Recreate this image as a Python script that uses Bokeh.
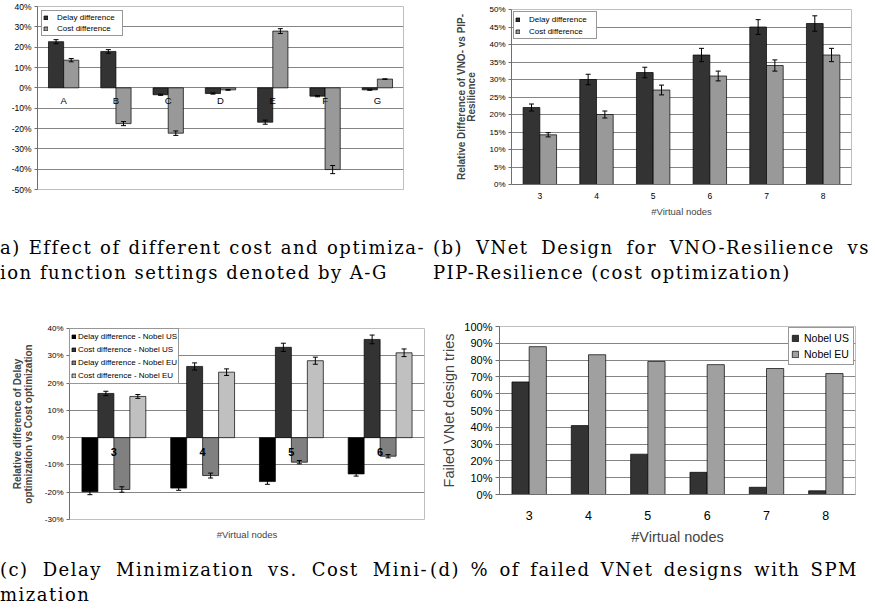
from bokeh.plotting import figure
from bokeh.layouts import column, row
from bokeh.models import (ColumnDataSource, Whisker, TeeHead, PrintfTickFormatter,
                          FixedTicker, Range1d, FactorRange, Div)
from bokeh.transform import dodge
from bokeh.core.properties import value
from bokeh.embed import file_html
from bokeh.resources import INLINE

# ---------------- data ----------------
# (a) settings A-G
a_settings = ["A", "B", "C", "D", "E", "F", "G"]
a_delay = [22.7, 17.9, -3.4, -2.8, -16.9, -4.1, -1.0]
a_delay_err = [1.0, 0.9, 0.3, 0.3, 1.0, 0.3, 0.2]
a_cost = [13.6, -17.6, -22.3, -1.0, 27.9, -40.2, 4.3]
a_cost_err = [0.8, 1.0, 1.1, 0.2, 1.2, 2.0, 0.1]
a_ticks = [-50, -40, -30, -20, -10, 0, 10, 20, 30, 40]

# (b) VNO vs PIP resilience
b_nodes = ["3", "4", "5", "6", "7", "8"]
b_delay = [22, 30, 32, 37, 45, 46]
b_delay_err = [1.0, 1.5, 1.5, 1.9, 2.1, 2.2]
b_cost = [14.2, 20, 27, 31, 34, 37]
b_cost_err = [0.6, 1.0, 1.4, 1.4, 1.6, 1.9]
b_ticks = [0, 5, 10, 15, 20, 25, 30, 35, 40, 45, 50]

# (c) delay vs cost minimization
c_nodes = ["3", "4", "5", "6"]
c_delay_us = [-19.8, -18.5, -16.1, -13.3]
c_delay_us_err = [1.1, 0.8, 1.0, 0.8]
c_cost_us = [16.2, 26.1, 33.1, 36.0]
c_cost_us_err = [0.8, 1.3, 1.5, 1.6]
c_delay_eu = [-19.0, -13.9, -9.0, -6.8]
c_delay_eu_err = [1.0, 0.9, 0.6, 0.6]
c_cost_eu = [15.1, 24.0, 28.2, 31.1]
c_cost_eu_err = [0.7, 1.2, 1.3, 1.4]
c_ticks = [-30, -20, -10, 0, 10, 20, 30, 40]

# (d) failed VNet designs
d_nodes = ["3", "4", "5", "6", "7", "8"]
d_us = [67, 41, 24, 13.2, 4.3, 2.2]
d_eu = [88, 83.2, 79.2, 77.3, 75, 72]
d_ticks = [0, 10, 20, 30, 40, 50, 60, 70, 80, 90, 100]

FONT = "Liberation Sans"


def make_source(cats, series):
    data = {"cat": cats}
    for name, vals, errs in series:
        data[name] = vals
        if errs is not None:
            data[name + "_hi"] = [v + e for v, e in zip(vals, errs)]
            data[name + "_lo"] = [v - e for v, e in zip(vals, errs)]
    return ColumnDataSource(data)


def base_fig(cats, w, h, y0, y1, ticks, bl, br, bt, bb, tick_size):
    p = figure(width=w, height=h, x_range=FactorRange(factors=cats), y_range=Range1d(y0, y1),
               toolbar_location=None, output_backend="svg",
               min_border_left=bl, min_border_right=br, min_border_top=bt, min_border_bottom=bb,
               background_fill_color="white", border_fill_color="white",
               outline_line_color="#bfbfbf", outline_line_width=1)
    p.xgrid.visible = False
    p.ygrid.grid_line_color = "#858585"
    p.ygrid.grid_line_width = 1
    p.yaxis.ticker = FixedTicker(ticks=ticks)
    p.yaxis.formatter = PrintfTickFormatter(format="%d%%")
    p.yaxis.minor_tick_line_color = None
    p.yaxis.major_tick_in = 0
    p.yaxis.major_tick_out = 3
    p.yaxis.axis_line_color = "#6f6f6f"
    p.yaxis.major_tick_line_color = "#6f6f6f"
    p.yaxis.major_label_text_font = FONT
    p.yaxis.major_label_text_font_size = tick_size
    p.yaxis.major_label_text_color = "#000000"
    p.yaxis.major_label_standoff = 3
    return p


def add_series(p, src, name, off, w, color, label, err=True):
    x = dodge("cat", off, range=p.x_range)
    p.vbar(x=x, top=name, bottom=0, width=w, source=src, fill_color=color,
           line_color="#000000", line_width=0.7, legend_label=label)
    if err:
        wk = Whisker(source=src, base=dodge("cat", off, range=p.x_range),
                     upper=name + "_hi", lower=name + "_lo", level="annotation",
                     line_color="#000000", line_width=1,
                     upper_head=TeeHead(size=5, line_color="#000000", line_width=1),
                     lower_head=TeeHead(size=5, line_color="#000000", line_width=1))
        p.add_layout(wk)


def style_legend(p, loc, margin, pad, lh, gw, standoff, lw, fs):
    lg = p.legend[0]
    lg.location = loc
    lg.margin = margin
    lg.padding = pad
    lg.spacing = 0
    lg.label_height = lh
    lg.label_width = lw
    lg.glyph_height = gw
    lg.glyph_width = gw
    lg.label_standoff = standoff
    lg.label_text_font = FONT
    lg.label_text_font_size = fs
    lg.label_text_color = "#000000"
    lg.border_line_color = "#303030"
    lg.border_line_width = 1
    lg.background_fill_color = "white"
    lg.background_fill_alpha = 1.0


# ---------------- (a) ----------------
src_a = make_source(a_settings, [("delay", a_delay, a_delay_err), ("cost", a_cost, a_cost_err)])
pa = base_fig(a_settings, 440, 225, -50, 40, a_ticks, 37, 37, 6, 36, "8.5px")
pa.xaxis.visible = False
add_series(pa, src_a, "delay", -0.145, 0.29, "#333333", "Delay difference")
add_series(pa, src_a, "cost", 0.145, 0.29, "#999999", "Cost difference")
pa.text(x="cat", y=-6.4, text="cat", source=src_a, text_align="center", text_baseline="middle",
        text_font=value(FONT), text_font_size="9.5px", text_color="#000000")
style_legend(pa, "top_left", 4, 1, 11, 5, 9, 64, "8px")

# ---------------- (b) ----------------
src_b = make_source(b_nodes, [("delay", b_delay, b_delay_err), ("cost", b_cost, b_cost_err)])
pb = base_fig(b_nodes, 435, 225, 0, 50, b_ticks, 71, 24, 9, 41, "8px")
add_series(pb, src_b, "delay", -0.1475, 0.295, "#333333", "Delay difference")
add_series(pb, src_b, "cost", 0.1475, 0.295, "#999999", "Cost difference")
pb.yaxis.axis_label = "Relative Difference of VNO- vs PIP-\nResilience"
pb.yaxis.axis_label_text_font = FONT
pb.yaxis.axis_label_text_font_style = "bold"
pb.yaxis.axis_label_text_font_size = "10px"
pb.yaxis.axis_label_text_line_height = 0.95
pb.yaxis.axis_label_standoff = 9
pb.xaxis.axis_label = "#Virtual nodes"
pb.xaxis.axis_label_text_font = FONT
pb.xaxis.axis_label_text_font_style = "normal"
pb.xaxis.axis_label_text_font_size = "9.5px"
pb.xaxis.axis_label_standoff = 4
pb.xaxis.major_label_text_font = FONT
pb.xaxis.major_label_text_font_size = "8.5px"
pb.xaxis.major_label_text_color = "#000000"
pb.xaxis.major_tick_line_color = None
pb.xaxis.major_tick_out = 4
pb.xaxis.major_label_standoff = 4
pb.xaxis.axis_line_color = "#6f6f6f"
style_legend(pb, "top_left", 2, 1, 12, 5, 9, 66, "8px")

# ---------------- (c) ----------------
src_c = make_source(c_nodes, [("dus", c_delay_us, c_delay_us_err), ("cus", c_cost_us, c_cost_us_err),
                              ("deu", c_delay_eu, c_delay_eu_err), ("ceu", c_cost_eu, c_cost_eu_err)])
pc = base_fig(c_nodes, 430, 232, -30, 40, c_ticks, 69, 6, 13, 28, "8px")
add_series(pc, src_c, "dus", -0.27, 0.18, "#000000", "Delay difference - Nobel US")
add_series(pc, src_c, "cus", -0.09, 0.18, "#333333", "Cost difference - Nobel US")
add_series(pc, src_c, "deu", 0.09, 0.18, "#808080", "Delay difference - Nobel EU")
add_series(pc, src_c, "ceu", 0.27, 0.18, "#c0c0c0", "Cost difference - Nobel EU")
pc.text(x="cat", y=-5.2, text="cat", source=src_c, text_align="center", text_baseline="middle",
        text_font=value(FONT), text_font_size="11px", text_font_style="bold", text_color="#000000")
pc.yaxis.axis_label = "Relative difference of Delay\noptimization vs Cost optimization"
pc.yaxis.axis_label_text_font = FONT
pc.yaxis.axis_label_text_font_style = "bold"
pc.yaxis.axis_label_text_font_size = "10px"
pc.yaxis.axis_label_text_line_height = 0.95
pc.yaxis.axis_label_standoff = 8
pc.xaxis.axis_label = "#Virtual nodes"
pc.xaxis.axis_label_text_font = FONT
pc.xaxis.axis_label_text_font_style = "normal"
pc.xaxis.axis_label_text_font_size = "9.5px"
pc.xaxis.axis_label_standoff = 9
pc.xaxis.major_label_text_color = None
pc.xaxis.major_label_text_font_size = "1px"
pc.xaxis.major_label_standoff = 0
pc.xaxis.major_tick_line_color = None
pc.xaxis.major_tick_out = 0
pc.xaxis.axis_line_color = None
style_legend(pc, "top_left", 0, 1, 13, 5, 2, 99, "8px")

# ---------------- (d) ----------------
src_d = make_source(d_nodes, [("us", d_us, None), ("eu", d_eu, None)])
pd_ = base_fig(d_nodes, 445, 232, 0, 100, d_ticks, 69, 20, 11, 51, "11px")
add_series(pd_, src_d, "us", -0.145, 0.29, "#333333", "Nobel US", err=False)
add_series(pd_, src_d, "eu", 0.145, 0.29, "#a0a0a0", "Nobel EU", err=False)
pd_.yaxis.major_tick_out = 4
pd_.yaxis.axis_label = "Failed VNet design tries"
pd_.yaxis.axis_label_text_font = FONT
pd_.yaxis.axis_label_text_font_style = "normal"
pd_.yaxis.axis_label_text_font_size = "14.5px"
pd_.yaxis.axis_label_standoff = 4
pd_.xaxis.axis_label = "#Virtual nodes"
pd_.xaxis.axis_label_text_font = FONT
pd_.xaxis.axis_label_text_font_style = "normal"
pd_.xaxis.axis_label_text_font_size = "14.5px"
pd_.xaxis.axis_label_standoff = 6
pd_.xaxis.major_label_text_font = FONT
pd_.xaxis.major_label_text_font_size = "12.5px"
pd_.xaxis.major_label_text_color = "#000000"
pd_.xaxis.major_tick_line_color = None
pd_.xaxis.major_tick_out = 4
pd_.xaxis.major_label_standoff = 12
pd_.xaxis.axis_line_color = "#6f6f6f"
style_legend(pd_, "top_right", 1, 2, 16, 8, 5, 47, "10.5px")

# ---------------- captions ----------------
cap_a = ["a) Effect of different cost and optimiza-", "ion function settings denoted by A-G"]
cap_b = ["(b) VNet Design for VNO-Resilience vs", "PIP-Resilience (cost optimization)"]
cap_c = ["(c) Delay Minimization vs. Cost Mini-", "mization"]
cap_d = ["(d) % of failed VNet designs with SPM"]


def caption(lines, w, h, pad_top, pad_left, text_w):
    html = ('<div style="font-family:\'DejaVu Serif\';font-size:18px;line-height:25.3px;'
            'letter-spacing:1.5px;color:#000;padding-top:%dpx;padding-left:%dpx;width:%dpx;">'
            % (pad_top, pad_left, text_w))
    for i, line in enumerate(lines):
        st = "white-space:nowrap;"
        if i == 0:
            st += "text-align:justify;text-align-last:justify;"
        html += '<div style="%s">%s</div>' % (st, line)
    html += "</div>"
    return Div(text=html, width=w, height=h, margin=0)


da = caption(cap_a, 433, 90, 10, 0, 425)
db = caption(cap_b, 442, 90, 10, 0, 437)
dc = caption(cap_c, 430, 65, 10, 0, 428)
dd = caption(cap_d, 445, 65, 10, 0, 428)

layout = column(row(column(pa), column(pb)), row(da, db),
                row(column(pc), column(pd_)), row(dc, dd))

open("out.html", "w").write(file_html(layout, INLINE))
